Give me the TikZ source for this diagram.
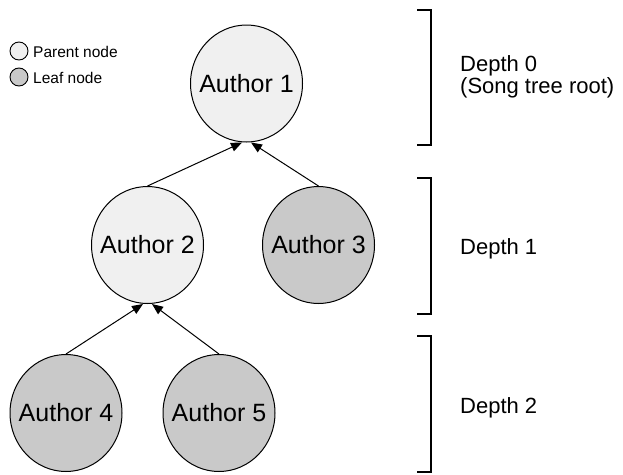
\documentclass[tikz,border=0pt]{standalone}
\usepackage{fontspec}
\setmainfont{Liberation Sans}
\usetikzlibrary{shapes.geometric,arrows.meta}
\definecolor{parentfill}{HTML}{F0F0F0}
\definecolor{leaffill}{HTML}{C9C9C9}
\tikzset{
  author/.style={ellipse,draw=black,line width=1pt,minimum width=112pt,minimum height=117pt,inner sep=0pt,
    label={[font=\fontsize{25}{30}\selectfont,inner sep=0pt]center:#1}},
  parentnode/.style={author=#1,fill=parentfill},
  leafnode/.style={author=#1,fill=leaffill},
  edge/.style={line width=1pt,-{Triangle[length=11pt,width=9pt]}},
  bracket/.style={line width=2pt},
  depthlabel/.style={anchor=base west,inner sep=0pt,font=\fontsize{22}{26}\selectfont},
  legendcircle/.style={circle,draw=black,line width=0.9pt,minimum size=18pt,inner sep=0pt},
  legendtext/.style={anchor=base west,inner sep=0pt,font=\fontsize{15.5}{18}\selectfont}
}
\begin{document}
\begin{tikzpicture}[x=1pt,y=-1pt]
\useasboundingbox (0,0) rectangle (623,474);
% legend
\node[legendcircle,fill=parentfill] (lp) at (19,51) {};
\node[legendcircle,fill=leaffill] (ll) at (19,77) {};
\node[legendtext] (lpt) at (33,57) {Parent node};
\node[legendtext] (llt) at (33,83) {Leaf node};
% nodes
\node[parentnode={Author 1}] (a1) at (246.5,83.5) {};
\node[parentnode={Author 2}] (a2) at (147.5,245) {};
\node[leafnode={Author 3}] (a3) at (318.5,245) {};
\node[leafnode={Author 4}] (a4) at (66,413) {};
\node[leafnode={Author 5}] (a5) at (219,413) {};
% edges
\draw[edge] (a2.north) -- ([xshift=-4.5pt]a1.south);
\draw[edge] (a3.north) -- ([xshift=4.5pt]a1.south);
\draw[edge] (a4.north) -- ([xshift=-4.5pt]a2.south);
\draw[edge] (a5.north) -- ([xshift=4.5pt]a2.south);
% brackets
\draw[bracket] (417,10) -- (431,10) -- (431,145) -- (417,145);
\draw[bracket] (417,178) -- (431,178) -- (431,314) -- (417,314);
\draw[bracket] (417,336) -- (431,336) -- (431,472) -- (417,472);
% depth labels
\node[depthlabel] (d0) at (460,71.7) {Depth 0};
\node[depthlabel] (d0b) at (460,93.3) {(Song tree root)};
\node[depthlabel] (d1) at (460,254.3) {Depth 1};
\node[depthlabel] (d2) at (460,413.3) {Depth 2};
\end{tikzpicture}
\end{document}
